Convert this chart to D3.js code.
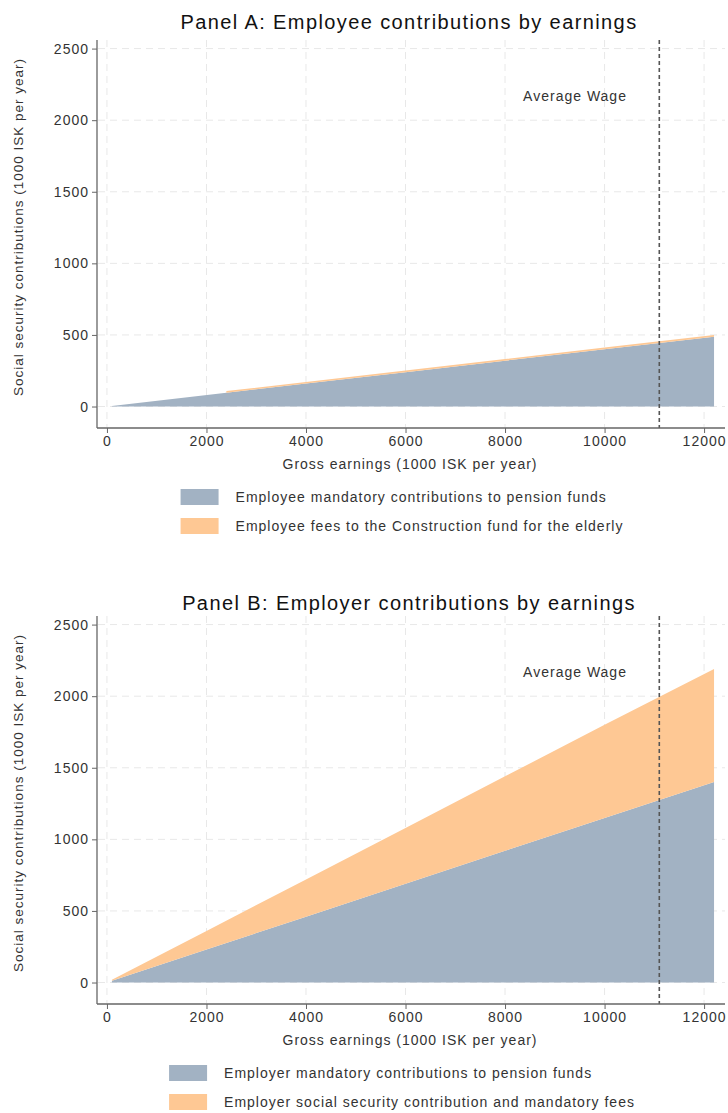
<!DOCTYPE html>
<html>
<head>
<meta charset="utf-8">
<script src="https://cdn.jsdelivr.net/npm/d3@7"></script>
<style>
  body { margin: 0; background: #fff; }
  svg { font-family: "Liberation Sans", Arial, sans-serif; }
</style>
</head>
<body>
<svg id="chart" width="728" height="1113"></svg>
<script>
// gross earnings, 1000 ISK per year
var earningsA = [100, 2399, 2400, 4000, 6000, 8000, 10000, 12200];
var employeePension = [4, 96, 96, 160, 240, 320, 400, 488];
var constructionFund = [0, 0, 12, 12, 12, 12, 12, 12];

var earningsB = [100, 2000, 4000, 6000, 8000, 10000, 12200];
var employerPension = [12, 230, 460, 690, 920, 1150, 1400];
var employerSocial = [7, 130, 260, 390, 520, 650, 790];

var xTicks = [0, 2000, 4000, 6000, 8000, 10000, 12000];
var yTicks = [0, 500, 1000, 1500, 2000, 2500];
var averageWage = 11100;

var titles = ['Panel A: Employee contributions by earnings',
              'Panel B: Employer contributions by earnings'];
var legendA = ['Employee mandatory contributions to pension funds',
               'Employee fees to the Construction fund for the elderly'];
var legendB = ['Employer mandatory contributions to pension funds',
               'Employer social security contribution and mandatory fees'];

var colors = ['#a2b2c3', '#fec894'];
var svg = d3.select('#chart');

function label(sel, size) {
    return sel.style('font-size', size + 'px').style('fill', '#333')
        .style('letter-spacing', '1px');
}

function panel(offset, titleY, earnings, bottomVals, topVals, title, legend) {
    var g = svg.append('g').attr('transform', 'translate(0,' + offset + ')');
    var x = d3.scaleLinear().domain([-200, 12360]).range([97, 722]);
    var y = d3.scaleLinear().domain([-150, 2560]).range([428, 40]);

    // grid
    g.selectAll('.hgrid').data(yTicks).enter().append('line')
        .attr('x1', 98).attr('x2', 725)
        .attr('y1', function(d){ return y(d); })
        .attr('y2', function(d){ return y(d); })
        .style('stroke', '#e8e8e8').style('stroke-dasharray', '7,5');
    g.selectAll('.vgrid').data(xTicks).enter().append('line')
        .attr('x1', function(d){ return x(d); })
        .attr('x2', function(d){ return x(d); })
        .attr('y1', 40).attr('y2', 427)
        .style('stroke', '#e8e8e8').style('stroke-dasharray', '7,5');

    var rows = earnings.map(function(e, i){
        return {e: e, a: bottomVals[i], b: topVals[i]};
    });
    var stack = d3.stack().keys(['a', 'b'])(rows);
    var area = d3.area()
        .x(function(d){ return x(d.data.e); })
        .y0(function(d){ return y(d[0]); })
        .y1(function(d){ return y(d[1]); });
    g.selectAll('.layer').data(stack).enter().append('path')
        .attr('d', area)
        .style('fill', function(d, i){ return colors[i]; });

    // average wage
    g.append('line')
        .attr('x1', x(averageWage)).attr('x2', x(averageWage))
        .attr('y1', 40).attr('y2', 428)
        .style('stroke', '#555').style('stroke-width', 1.6)
        .style('stroke-dasharray', '4,3');
    label(g.append('text'), 14)
        .attr('x', x(10450)).attr('y', y(2170))
        .attr('text-anchor', 'end').attr('dy', '0.35em')
        .text('Average Wage');

    // axes
    var xAxis = d3.axisBottom(x).tickValues(xTicks).tickSize(5).tickPadding(3)
        .tickFormat(d3.format('d'));
    var gx = g.append('g').attr('transform', 'translate(0,428)').call(xAxis);
    var yAxis = d3.axisLeft(y).tickValues(yTicks).tickSize(5).tickPadding(3)
        .tickFormat(d3.format('d'));
    var gy = g.append('g').attr('transform', 'translate(97,0)').call(yAxis);
    [gx, gy].forEach(function(a){
        a.select('.domain').attr('d', a === gx ? 'M97,0H725' : 'M0,40V428')
            .style('stroke', '#666').style('stroke-width', 1.3);
        a.selectAll('.tick line').style('stroke', '#666');
        label(a.selectAll('.tick text'), 14)
            .style('font-family', '"Liberation Sans", Arial, sans-serif');
    });

    label(g.append('text'), 14)
        .attr('x', 410).attr('y', 469)
        .attr('text-anchor', 'middle')
        .text('Gross earnings (1000 ISK per year)');
    label(g.append('text'), 13.5)
        .attr('transform', 'translate(23,227) rotate(-90)')
        .attr('text-anchor', 'middle')
        .text('Social security contributions (1000 ISK per year)');
    g.append('text')
        .attr('x', 409).attr('y', titleY)
        .attr('text-anchor', 'middle')
        .style('font-size', '20px').style('fill', '#111')
        .style('letter-spacing', '1.4px')
        .text(title);

    // legend, centered as a block
    var lg = g.append('g');
    var items = lg.selectAll('.item').data(legend).enter().append('g')
        .attr('transform', function(d, i){ return 'translate(0,' + (489 + i * 29) + ')'; });
    items.append('rect')
        .attr('width', 38).attr('height', 16)
        .style('fill', function(d, i){ return colors[i]; });
    var txt = label(items.append('text'), 14)
        .attr('x', 55).attr('y', 8).attr('dy', '0.35em')
        .text(function(d){ return d; });
    var w = d3.max(txt.nodes().map(function(n){ return n.getComputedTextLength(); })) + 55;
    lg.attr('transform', 'translate(' + (402 - w / 2) + ',0)');
}

panel(0, 29, earningsA, employeePension, constructionFund, titles[0], legendA);
panel(576, 34, earningsB, employerPension, employerSocial, titles[1], legendB);
</script>
</body>
</html>
